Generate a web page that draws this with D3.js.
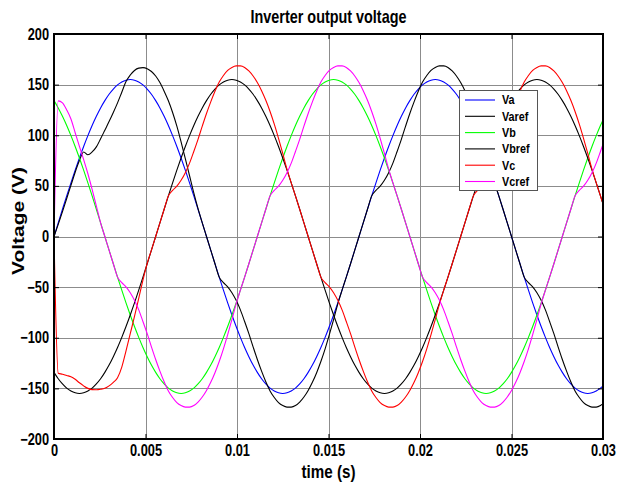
<!DOCTYPE html>
<html>
<head>
<meta charset="utf-8">
<script src="https://cdn.jsdelivr.net/npm/d3@7"></script>
<style>
  body { margin: 0; background: #fff; }
  svg { display: block; }
  text { font-family: "Liberation Sans", Arial, sans-serif; font-weight: bold; fill: #000; }
</style>
</head>
<body>
<svg id="chart" width="621" height="483"></svg>
<script>
// Sample instants (ms), one every 5 electrical degrees of the 60 Hz fundamental
const timeMs = [0,0.231,0.463,0.694,0.926,1.157,1.389,1.620,1.852,2.083,2.315,2.546,2.778,3.009,3.241,3.472,3.704,3.935,4.167,4.398,4.630,4.861,5.093,5.324,5.556,5.787,6.019,6.250,6.481,6.713,6.944,7.176,7.407,7.639,7.870,8.102,8.333,8.565,8.796,9.028,9.259,9.491,9.722,9.954,10.185,10.417,10.648,10.880,11.111,11.343,11.574,11.806,12.037,12.269,12.500,12.731,12.963,13.194,13.426,13.657,13.889,14.120,14.352,14.583,14.815,15.046,15.278,15.509,15.741,15.972,16.204,16.435,16.667,16.898,17.130,17.361,17.593,17.824,18.056,18.287,18.519,18.750,18.981,19.213,19.444,19.676,19.907,20.139,20.370,20.602,20.833,21.065,21.296,21.528,21.759,21.991,22.222,22.454,22.685,22.917,23.148,23.380,23.611,23.843,24.074,24.306,24.537,24.769,25.000,25.231,25.463,25.694,25.926,26.157,26.389,26.620,26.852,27.083,27.315,27.546,27.778,28.009,28.241,28.472,28.704,28.935,29.167,29.398,29.630,29.861,30.093];

// Phase A output (V)
const va = [0,13.5,26.9,40.1,53.0,65.5,77.5,88.9,99.6,109.6,118.7,127.0,134.2,140.5,145.6,149.7,152.6,154.4,155,154.4,152.6,149.7,145.6,140.5,134.2,127.0,118.7,109.6,99.6,88.9,77.5,65.5,53.0,40.1,26.9,13.5,
  0,-13.5,-26.9,-40.1,-53.0,-65.5,-77.5,-88.9,-99.6,-109.6,-118.7,-127.0,-134.2,-140.5,-145.6,-149.7,-152.6,-154.4,-155,-154.4,-152.6,-149.7,-145.6,-140.5,-134.2,-127.0,-118.7,-109.6,-99.6,-88.9,-77.5,-65.5,-53.0,-40.1,-26.9,-13.5,
  0,13.5,26.9,40.1,53.0,65.5,77.5,88.9,99.6,109.6,118.7,127.0,134.2,140.5,145.6,149.7,152.6,154.4,155,154.4,152.6,149.7,145.6,140.5,134.2,127.0,118.7,109.6,99.6,88.9,77.5,65.5,53.0,40.1,26.9,13.5,
  0,-13.5,-26.9,-40.1,-53.0,-65.5,-77.5,-88.9,-99.6,-109.6,-118.7,-127.0,-134.2,-140.5,-145.6,-149.7,-152.6,-154.4,-155,-154.4,-152.6,-149.7,-145.6];

// Phase A reference (V)
const varef = [0,12,24.5,37.5,50.5,63.5,75,83.5,80.8,83.5,88.5,96.5,105,113.5,122.5,132,142.5,153,159.5,164,166.3,166.8,165.8,163,158.5,152,143.5,134,122.5,109,93.5,77,60,43,27.5,13.5,
  0,-13.5,-26.9,-40.1,-45.5,-49.7,-55.5,-63,-72.5,-84,-96,-109,-121.5,-133,-143.5,-152.5,-159,-164,-167,-168.5,-168.5,-167,-163.5,-158.5,-152,-144,-134.5,-123.5,-111,-97,-82,-66.5,-53,-40.1,-26.9,-13.5,
  0,13.5,26.9,40.1,45.5,49.7,55.5,63,72.5,84,96,109,121.5,133,143.5,152.5,159,164,167,168.5,168.5,167,163.5,158.5,152,144,134.5,123.5,111,97,82,66.5,53,40.1,26.9,13.5,
  0,-13.5,-26.9,-40.1,-45.5,-49.7,-55.5,-63,-72.5,-84,-96,-109,-121.5,-133,-143.5,-152.5,-159,-164,-167,-168.5,-168.5,-167,-163.5];

// Phase B output (V)
const vb = [134.2,127.0,118.7,109.6,99.6,88.9,77.5,65.5,53.0,40.1,26.9,13.5,
  0,-13.5,-26.9,-40.1,-53.0,-65.5,-77.5,-88.9,-99.6,-109.6,-118.7,-127.0,-134.2,-140.5,-145.6,-149.7,-152.6,-154.4,-155,-154.4,-152.6,-149.7,-145.6,-140.5,-134.2,-127.0,-118.7,-109.6,-99.6,-88.9,-77.5,-65.5,-53.0,-40.1,-26.9,-13.5,
  0,13.5,26.9,40.1,53.0,65.5,77.5,88.9,99.6,109.6,118.7,127.0,134.2,140.5,145.6,149.7,152.6,154.4,155,154.4,152.6,149.7,145.6,140.5,134.2,127.0,118.7,109.6,99.6,88.9,77.5,65.5,53.0,40.1,26.9,13.5,
  0,-13.5,-26.9,-40.1,-53.0,-65.5,-77.5,-88.9,-99.6,-109.6,-118.7,-127.0,-134.2,-140.5,-145.6,-149.7,-152.6,-154.4,-155,-154.4,-152.6,-149.7,-145.6,-140.5,-134.2,-127.0,-118.7,-109.6,-99.6,-88.9,-77.5,-65.5,-53.0,-40.1,-26.9,-13.5,
  0,13.5,26.9,40.1,53.0,65.5,77.5,88.9,99.6,109.6,118.7];

// Second black trace (V)
const vbref = [-134.2,-140.5,-145.6,-149.7,-152.6,-154.4,-155,-154.4,-152.6,-149.7,-145.6,-140.5,-134.2,-127.0,-118.7,-109.6,-99.6,-88.9,-77.5,-65.5,-53.0,-40.1,-26.9,-13.5,
  0,13.5,26.9,40.1,53.0,65.5,77.5,88.9,99.6,109.6,118.7,127.0,134.2,140.5,145.6,149.7,152.6,154.4,155,154.4,152.6,149.7,145.6,140.5,134.2,127.0,118.7,109.6,99.6,88.9,77.5,65.5,53.0,40.1,26.9,13.5,
  0,-13.5,-26.9,-40.1,-53.0,-65.5,-77.5,-88.9,-99.6,-109.6,-118.7,-127.0,-134.2,-140.5,-145.6,-149.7,-152.6,-154.4,-155,-154.4,-152.6,-149.7,-145.6,-140.5,-134.2,-127.0,-118.7,-109.6,-99.6,-88.9,-77.5,-65.5,-53.0,-40.1,-26.9,-13.5,
  0,13.5,26.9,40.1,53.0,65.5,77.5,88.9,99.6,109.6,118.7,127.0,134.2,140.5,145.6,149.7,152.6,154.4,155,154.4,152.6,149.7,145.6,140.5,134.2,127.0,118.7,109.6,99.6,88.9,77.5,65.5,53.0,40.1,26.9];

// Phase C output (V)
const vc = [0,-135,-136,-137.3,-138.5,-141,-144.5,-147.5,-150,-151.2,-151.3,-150.8,-149.8,-147.5,-144,-139.5,-129,-113,-96,-79,-61,-43,-26.5,-13.5,
  0,13.5,26.9,40.1,45.5,49.7,55.5,63,72.5,84,96,109,121.5,133,143.5,152.5,159,164,167,168.5,168.5,167,163.5,158.5,152,144,134.5,123.5,111,97,82,66.5,53,40.1,26.9,13.5,
  0,-13.5,-26.9,-40.1,-45.5,-49.7,-55.5,-63,-72.5,-84,-96,-109,-121.5,-133,-143.5,-152.5,-159,-164,-167,-168.5,-168.5,-167,-163.5,-158.5,-152,-144,-134.5,-123.5,-111,-97,-82,-66.5,-53,-40.1,-26.9,-13.5,
  0,13.5,26.9,40.1,45.5,49.7,55.5,63,72.5,84,96,109,121.5,133,143.5,152.5,159,164,167,168.5,168.5,167,163.5,158.5,152,144,134.5,123.5,111,97,82,66.5,53,40.1,26.9];

// Magenta trace (V)
const vcref = [0,134,132,125,116,102.5,89,76,62,46.5,30,13.5,
  0,-13.5,-26.9,-40.1,-45.5,-49.7,-55.5,-63,-72.5,-84,-96,-109,-121.5,-133,-143.5,-152.5,-159,-164,-167,-168.5,-168.5,-167,-163.5,-158.5,-152,-144,-134.5,-123.5,-111,-97,-82,-66.5,-53,-40.1,-26.9,-13.5,
  0,13.5,26.9,40.1,45.5,49.7,55.5,63,72.5,84,96,109,121.5,133,143.5,152.5,159,164,167,168.5,168.5,167,163.5,158.5,152,144,134.5,123.5,111,97,82,66.5,53,40.1,26.9,13.5,
  0,-13.5,-26.9,-40.1,-45.5,-49.7,-55.5,-63,-72.5,-84,-96,-109,-121.5,-133,-143.5,-152.5,-159,-164,-167,-168.5,-168.5,-167,-163.5,-158.5,-152,-144,-134.5,-123.5,-111,-97,-82,-66.5,-53,-40.1,-26.9,-13.5,
  0,13.5,26.9,40.1,45.5,49.7,55.5,63,72.5,84,96];

const seriesNames = ["Va", "Varef", "Vb", "Vbref", "Vc", "Vcref"];
const seriesValues = [va, varef, vb, vbref, vc, vcref];
const seriesColors = ["#0000ff", "#000000", "#00ff00", "#000000", "#ff0000", "#ff00ff"];

const xTicks = [0, 0.005, 0.01, 0.015, 0.02, 0.025, 0.03];
const xTickLabels = ["0", "0.005", "0.01", "0.015", "0.02", "0.025", "0.03"];
const yTicks = [-200, -150, -100, -50, 0, 50, 100, 150, 200];

const plot = { left: 54, right: 603, top: 34, bottom: 439 };
const squeeze = 0.8; // horizontal compression of the lettering

const svg = d3.select("#chart");
const x = d3.scaleLinear().domain([0, 0.03]).range([plot.left, plot.right]);
const y = d3.scaleLinear().domain([-200, 200]).range([plot.bottom, plot.top]);

svg.append("rect").attr("width", 621).attr("height", 483).attr("fill", "#fff");

// grid
const grid = svg.append("g").attr("stroke", "#8c8c8c").attr("stroke-width", 1);
grid.selectAll("line.v").data(xTicks).join("line")
  .attr("x1", d => Math.round(x(d)) + 0.5).attr("x2", d => Math.round(x(d)) + 0.5)
  .attr("y1", plot.top).attr("y2", plot.bottom);
grid.selectAll("line.h").data(yTicks).join("line")
  .attr("y1", d => Math.round(y(d)) + 0.5).attr("y2", d => Math.round(y(d)) + 0.5)
  .attr("x1", plot.left).attr("x2", plot.right);

// curves
svg.append("clipPath").attr("id", "plotClip").append("rect")
  .attr("x", plot.left).attr("y", plot.top)
  .attr("width", plot.right - plot.left).attr("height", plot.bottom - plot.top);

const line = d3.line()
  .x((d, i) => x(timeMs[i] / 1000))
  .y(d => y(d))
  .curve(d3.curveMonotoneX);

const curves = svg.append("g").attr("clip-path", "url(#plotClip)");
seriesValues.forEach((vals, i) => {
  curves.append("path")
    .attr("d", line(vals))
    .attr("fill", "none")
    .attr("stroke", seriesColors[i])
    .attr("stroke-width", 1.1);
});

// axes with inward ticks
const bottomAxis = d3.axisBottom(x).tickValues(xTicks)
  .tickFormat((d, i) => xTickLabels[i]).tickSize(-5).tickPadding(6);
const leftAxis = d3.axisLeft(y).tickValues(yTicks)
  .tickFormat(d3.format("d")).tickSize(-5).tickPadding(5);
const topAxis = d3.axisTop(x).tickValues(xTicks).tickFormat("").tickSize(-5);
const rightAxis = d3.axisRight(y).tickValues(yTicks).tickFormat("").tickSize(-5);

function styleAxis(g) {
  g.select(".domain").remove();
  g.selectAll(".tick line").attr("stroke", "#000");
  g.selectAll(".tick text").attr("font-size", 16).attr("font-weight", "bold")
    .attr("font-family", "Liberation Sans, Arial, sans-serif").attr("fill", "#000")
    .attr("transform", `scale(${squeeze},1)`);
}
svg.append("g").attr("transform", `translate(0,${plot.bottom})`).call(bottomAxis).call(styleAxis);
svg.append("g").attr("transform", `translate(${plot.left},0)`).call(leftAxis).call(styleAxis)
  .selectAll(".tick text").attr("x", -5 / squeeze);
svg.append("g").attr("transform", `translate(0,${plot.top})`).call(topAxis).call(styleAxis);
svg.append("g").attr("transform", `translate(${plot.right},0)`).call(rightAxis).call(styleAxis);

// frame
svg.append("rect")
  .attr("x", plot.left).attr("y", plot.top)
  .attr("width", plot.right - plot.left).attr("height", plot.bottom - plot.top)
  .attr("fill", "none").attr("stroke", "#000").attr("stroke-width", 2);

// titles
const midX = (plot.left + plot.right) / 2;
svg.append("text")
  .attr("transform", `translate(${midX},23) scale(${squeeze},1)`)
  .attr("text-anchor", "middle").attr("font-size", 18).text("Inverter output voltage");
svg.append("text")
  .attr("transform", `translate(${midX},478) scale(${squeeze},1)`)
  .attr("text-anchor", "middle").attr("font-size", 19).text("time (s)");
svg.append("text")
  .attr("transform", `translate(24,221) scale(${squeeze},1) rotate(-90)`)
  .attr("text-anchor", "middle").attr("font-size", 21).text("Voltage (V)");

// legend
const legend = svg.append("g");
legend.append("rect").attr("x", 459.5).attr("y", 90.5).attr("width", 78).attr("height", 100)
  .attr("fill", "#fff").attr("stroke", "#555").attr("stroke-width", 1);
seriesNames.forEach((name, i) => {
  const ly = 100 + i * 16.3;
  legend.append("line").attr("x1", 465).attr("x2", 495).attr("y1", ly).attr("y2", ly)
    .attr("stroke", seriesColors[i]).attr("stroke-width", 1.1);
  legend.append("text")
    .attr("transform", `translate(502,${ly}) scale(0.9,1)`)
    .attr("dy", "0.36em").attr("font-size", 12).text(name);
});
</script>
</body>
</html>
